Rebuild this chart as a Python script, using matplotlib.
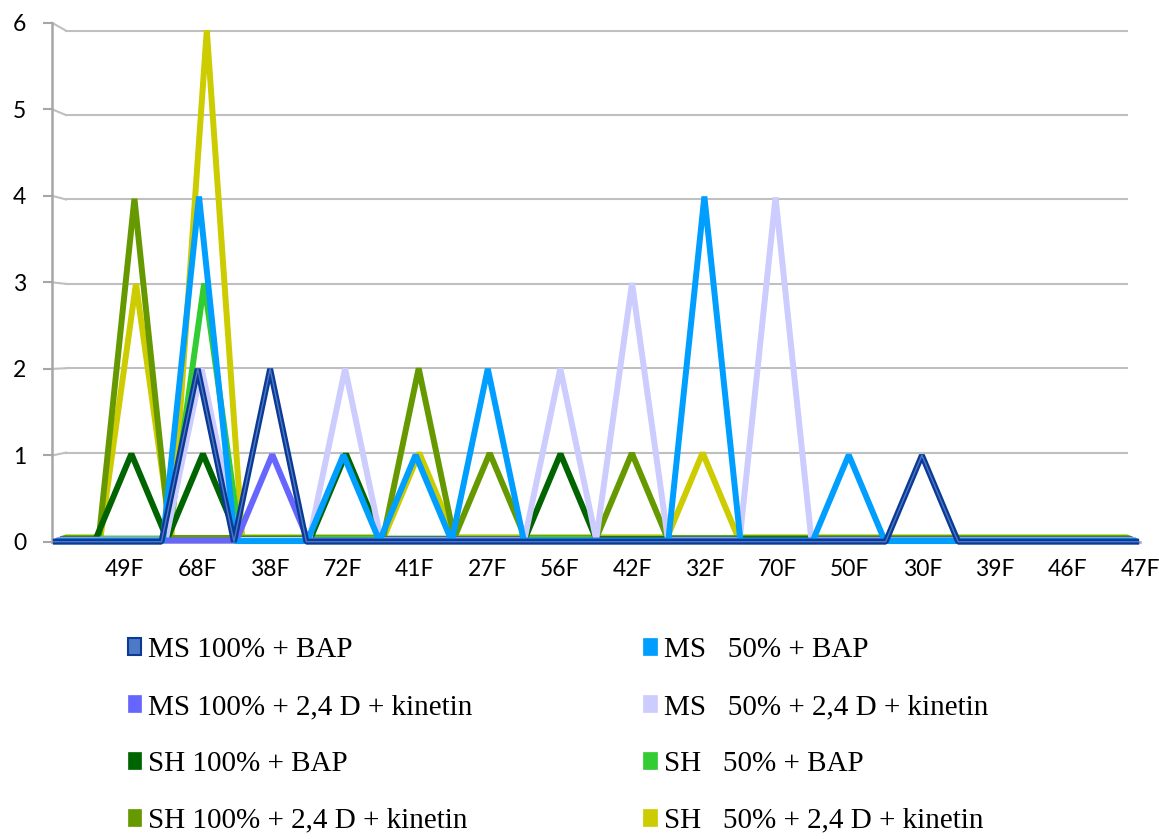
import numpy as np
import matplotlib
matplotlib.use("Agg")
import matplotlib.pyplot as plt
from matplotlib.patches import Patch
from matplotlib.transforms import Affine2D

# 31 category slots, every other one carries a label (Excel skipped the rest)
N_CATS = 31
TICK_IDX = list(range(2, 31, 2))
TICK_LABELS = ["49F", "68F", "38F", "72F", "41F", "27F", "56F", "42F",
               "32F", "70F", "50F", "30F", "39F", "46F", "47F"]

#                  0  1  2  3  4  5  6  7  8  9 10 11 12 13 14 15 16 17 18 19 20 21 22 23 24 25 26 27 28 29 30
ms100_bap      = [0, 0, 0, 0, 2, 0, 2, 0, 0, 0, 0, 0, 0, 0, 0, 0, 0, 0, 0, 0, 0, 0, 0, 0, 1, 0, 0, 0, 0, 0, 0]
ms50_bap       = [0, 0, 0, 0, 4, 0, 0, 0, 1, 0, 1, 0, 2, 0, 0, 0, 0, 0, 4, 0, 0, 0, 1, 0, 0, 0, 0, 0, 0, 0, 0]
ms100_24d_kin  = [0, 0, 0, 0, 0, 0, 1, 0, 0, 0, 0, 0, 0, 0, 0, 0, 0, 0, 0, 0, 0, 0, 0, 0, 0, 0, 0, 0, 0, 0, 0]
ms50_24d_kin   = [0, 0, 0, 0, 2, 0, 0, 0, 2, 0, 0, 0, 0, 0, 2, 0, 3, 0, 0, 0, 4, 0, 0, 0, 0, 0, 0, 0, 0, 0, 0]
sh100_bap      = [0, 0, 1, 0, 1, 0, 0, 0, 1, 0, 0, 0, 0, 0, 1, 0, 0, 0, 0, 0, 0, 0, 0, 0, 0, 0, 0, 0, 0, 0, 0]
sh50_bap       = [0, 0, 0, 0, 3, 0, 0, 0, 0, 0, 0, 0, 0, 0, 0, 0, 0, 0, 0, 0, 0, 0, 0, 0, 0, 0, 0, 0, 0, 0, 0]
sh100_24d_kin  = [0, 0, 4, 0, 0, 0, 0, 0, 0, 0, 2, 0, 1, 0, 0, 0, 1, 0, 0, 0, 0, 0, 0, 0, 0, 0, 0, 0, 0, 0, 0]
sh50_24d_kin   = [0, 0, 3, 0, 6, 0, 0, 0, 0, 0, 1, 0, 0, 0, 0, 0, 0, 0, 1, 0, 0, 0, 0, 0, 0, 0, 0, 0, 0, 0, 0]

SERIES_NAMES = [
    "MS 100% + BAP",
    "MS   50% + BAP",
    "MS 100% + 2,4 D + kinetin",
    "MS   50% + 2,4 D + kinetin",
    "SH 100% + BAP",
    "SH   50% + BAP",
    "SH 100% + 2,4 D + kinetin",
    "SH   50% + 2,4 D + kinetin",
]
SERIES_VALUES = [ms100_bap, ms50_bap, ms100_24d_kin, ms50_24d_kin,
                 sh100_bap, sh50_bap, sh100_24d_kin, sh50_24d_kin]
SERIES_COLORS = ["#0B3A96", "#009EFF", "#6666FF", "#CCCCFF",
                 "#006400", "#33CC33", "#669900", "#CCCC00"]
NAVY_INNER = "#4E79C4"

# fake 3-D depth: each series is shrunk a little toward a vanishing point
VP_X, VP_Y = 15.44, 2.31
WALL_SCALE = 0.975

GRID_COLOR = "#BFBFBF"
AXIS_COLOR = "#A6A6A6"


def depth_affine(s):
    return Affine2D().translate(-VP_X, -VP_Y).scale(s).translate(VP_X, VP_Y)


def main():
    fig = plt.figure(figsize=(11.59, 8.39), dpi=100)
    ax = fig.add_axes([52 / 1159, 297 / 839, 1088 / 1159, 519.3 / 839])
    ax.set_xlim(0, N_CATS - 1)
    ax.set_ylim(0, 6)

    # back wall gridlines with the little diagonal to the front axis
    wall = depth_affine(WALL_SCALE)
    for y in range(0, 7):
        bx, by = wall.transform((0, y))
        ax.plot([0, bx], [y, by], color=GRID_COLOR, lw=1.5, clip_on=False, zorder=1)
        ax.plot([0, N_CATS - 1], [y, y], color=GRID_COLOR, lw=1.5,
                transform=wall + ax.transData, clip_on=False, zorder=1)

    x = np.arange(N_CATS)
    n = len(SERIES_VALUES)
    for k in reversed(range(n)):
        s = 1 - (1 - WALL_SCALE) * (k + 0.5) / n
        tf = depth_affine(s) + ax.transData
        ax.plot(x, SERIES_VALUES[k], color=SERIES_COLORS[k], lw=4.3,
                transform=tf, clip_on=False, zorder=3 + (n - k),
                solid_joinstyle="bevel", solid_capstyle="butt")
        if k == 0:
            ax.plot(x, SERIES_VALUES[k], color=NAVY_INNER, lw=1.0,
                    transform=tf, clip_on=False, zorder=3 + n + 0.5,
                    solid_joinstyle="bevel", solid_capstyle="butt")

    for side in ["top", "right"]:
        ax.spines[side].set_visible(False)
    for side in ["left", "bottom"]:
        ax.spines[side].set_color(AXIS_COLOR)
        ax.spines[side].set_linewidth(1.8)
        ax.spines[side].set_zorder(2)

    tick_font = {"family": ["Lato", "DejaVu Sans"], "size": 16.5}
    ax.set_yticks(range(0, 7))
    ax.set_yticklabels([str(v) for v in range(0, 7)], fontdict=tick_font)
    ax.tick_params(axis="y", length=6.5, width=1.5, color=AXIS_COLOR, pad=12)
    ax.set_xticks(TICK_IDX)
    ax.set_xticklabels(TICK_LABELS, fontdict=tick_font)
    ax.tick_params(axis="x", length=0, pad=12)

    # legend: two columns, row-major like the original
    handles = []
    for k, c in enumerate(SERIES_COLORS):
        if k == 0:
            handles.append(Patch(facecolor=NAVY_INNER, edgecolor=c, lw=1.5))
        else:
            handles.append(Patch(facecolor=c, edgecolor=c, lw=0.5))
    order = [0, 2, 4, 6, 1, 3, 5, 7]
    fig.legend([handles[i] for i in order], [SERIES_NAMES[i] for i in order],
               ncol=2, loc="upper left", bbox_to_anchor=(128 / 1159, 1 - 637 / 839),
               frameon=False, borderpad=0, borderaxespad=0,
               prop={"family": "Liberation Serif", "size": 21},
               handlelength=0.45, handleheight=0.55, handletextpad=0.25,
               columnspacing=5.85, labelspacing=1.06)

    fig.savefig("out.png", dpi=100)
    plt.close(fig)


if __name__ == "__main__":
    main()
